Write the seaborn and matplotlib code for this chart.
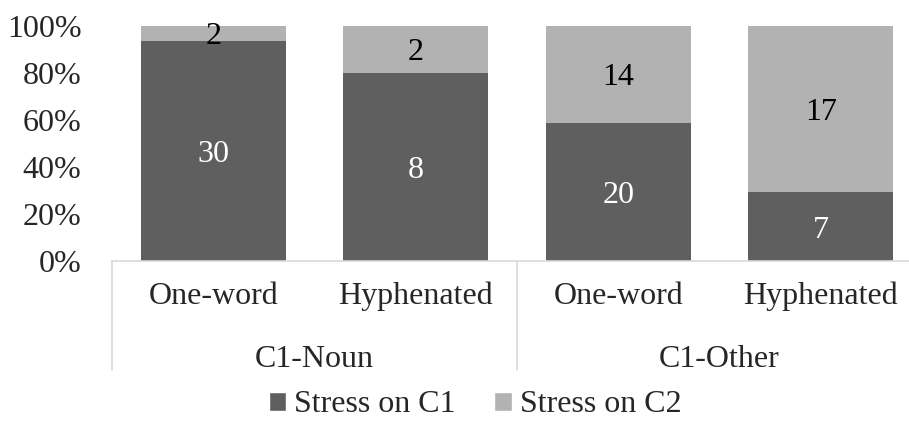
import matplotlib
matplotlib.use("Agg")
import matplotlib.pyplot as plt
import matplotlib.transforms as mtransforms
from matplotlib.patches import Patch
import pandas as pd
import seaborn as sns

groups = ["C1-Noun", "C1-Noun", "C1-Other", "C1-Other"]
forms = ["One-word", "Hyphenated", "One-word", "Hyphenated"]
stress_c1 = [30, 8, 20, 7]
stress_c2 = [2, 2, 14, 17]

DARK = "#5f5f5f"
LIGHT = "#b2b2b2"
GRID = "#d9d9d9"

sns.set_theme(style="white")
plt.rcParams["font.family"] = ["Liberation Serif", "DejaVu Serif"]
plt.rcParams["font.size"] = 23

data = pd.DataFrame({"group": groups, "form": forms, "c1": stress_c1, "c2": stress_c2})
data["bar"] = [f"{g}|{f}" for g, f in zip(groups, forms)]
data["total"] = data["c1"] + data["c2"]
data["share_c1"] = data["c1"] / data["total"]
data["full"] = 1.0

fig = plt.figure(figsize=(9.09, 4.21), dpi=100)
W, H = 909, 421
# axes: x from 112 px, y 0% at 261 px, 100% at 26 px
ax = fig.add_axes([112 / W, 1 - 261 / H, (922 - 112) / W, (261 - 26) / H])

sns.barplot(data=data, x="bar", y="full", color=LIGHT, width=0.716, saturation=1,
            linewidth=0, ax=ax)
sns.barplot(data=data, x="bar", y="share_c1", color=DARK, width=0.716, saturation=1,
            linewidth=0, ax=ax)

for i, row in data.iterrows():
    ax.text(i, row["share_c1"] / 2, str(row["c1"]), ha="center", va="center_baseline",
            color="white", fontsize=23)
    ax.text(i, row["share_c1"] + (1 - row["share_c1"]) / 2, str(row["c2"]),
            ha="center", va="center_baseline", color="black", fontsize=23)

ax.set_xlim(-0.5, 3.5)
ax.set_ylim(0, 1)
ax.set_yticks([0, 0.2, 0.4, 0.6, 0.8, 1.0])
ax.set_yticklabels(["0%", "20%", "40%", "60%", "80%", "100%"])
ax.set_xticks(range(len(forms)))
ax.set_xticklabels(forms)
ax.tick_params(axis="both", length=0, labelsize=23)
ax.tick_params(axis="y", pad=22)
ax.tick_params(axis="x", pad=15)
ax.set_xlabel("")
ax.set_ylabel("")

for side in ["top", "right", "left"]:
    ax.spines[side].set_visible(False)
ax.spines["bottom"].set_color(GRID)
ax.spines["bottom"].set_linewidth(1.2)

# group separators and labels below the axis
trans = mtransforms.blended_transform_factory(ax.transData, ax.transAxes)
depth = (370 - 261) / (261 - 26)
for x in [-0.5, 1.5, 3.5]:
    ax.plot([x, x], [0, -depth], color=GRID, lw=1.2, transform=trans, clip_on=False)
for pos, name in [(0.5, "C1-Noun"), (2.5, "C1-Other")]:
    ax.text(pos, -(356 - 261) / (261 - 26), name, ha="center", va="center_baseline",
            fontsize=23, transform=trans)

handles = [Patch(facecolor=DARK, label="Stress on C1"),
           Patch(facecolor=LIGHT, label="Stress on C2")]
fig.legend(handles=handles, loc="center", bbox_to_anchor=(475 / W, 1 - 405 / H),
           ncol=2, frameon=False, fontsize=23, handlelength=0.55, handleheight=0.55,
           handletextpad=0.25, columnspacing=1.2, borderpad=0)

fig.savefig("out.png", dpi=100)
plt.close(fig)
